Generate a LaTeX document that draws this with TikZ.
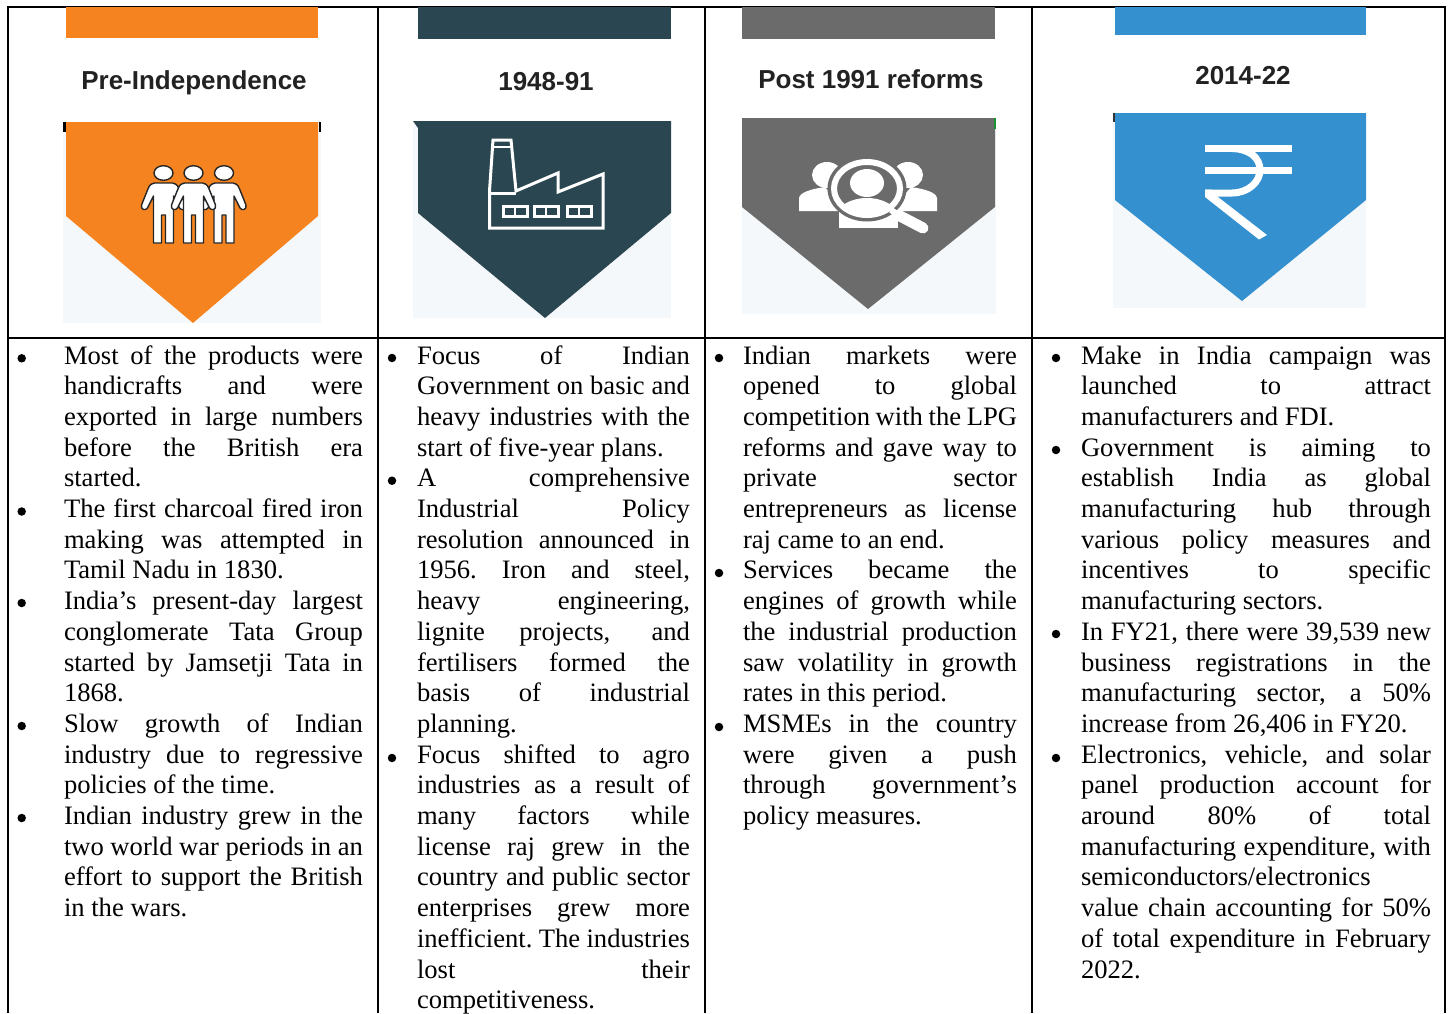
\documentclass[tikz,border=0pt]{standalone}
\usepackage{fontspec}
\setmainfont{Liberation Serif}
\setsansfont{Liberation Sans}
\newcommand\J[1]{\makebox[\hsize][s]{#1}}
\newcommand\R{\spaceskip=.25em plus 4em minus .06em\relax\xspaceskip=\spaceskip\rule{0pt}{20pt}}
\definecolor{orangeb}{HTML}{F58420}
\definecolor{tealb}{HTML}{2A4650}
\definecolor{greyb}{HTML}{6B6B6B}
\definecolor{blueb}{HTML}{3590CF}
\definecolor{palebg}{HTML}{F5F8FA}
\definecolor{titleink}{HTML}{222222}
\tikzset{
 gridline/.style={line width=2.2pt,black},
 coltext/.style={anchor=north west,inner sep=0pt,outer sep=0pt,align=left,font=\fontsize{26.6}{30.7}\selectfont},
 bulletdot/.style={circle,fill=black,inner sep=0pt,minimum size=8.5pt},
 title/.style={anchor=base,font=\sffamily\bfseries\fontsize{26}{30}\selectfont,text=titleink,inner sep=0pt},
 icon/.style={white,line width=3pt},
 fig/.style={fill=white,draw=black!85,line width=1.4pt,line join=round}
}
% color, x0, x1, barbottom, top, side, tipx, tipy
\newcommand\banner[8]{%
 \fill[#1] (#2,7) rectangle (#3,#4);
 \fill[#1] (#2,#5) -- (#3,#5) -- (#3,#6) -- (#7,#8) -- (#2,#6) -- cycle;
}
\newcommand\person[1]{%
 \draw[fig] (#1,173) ellipse [x radius=9.5pt,y radius=7.3pt];
 \draw[fig] (#1-9,183) .. controls (#1-14,184) and (#1-15,187) .. (#1-16,190) -- (#1-22,205)
  .. controls (#1-23,210) and (#1-18,211) .. (#1-16,208) -- (#1-10,196) -- (#1-10,243) -- (#1-2,243) -- (#1-2,215) -- (#1+2,215)
  -- (#1+2,243) -- (#1+10,243) -- (#1+10,196) -- (#1+16,208) .. controls (#1+18,211) and (#1+23,210) .. (#1+22,205)
  -- (#1+16,190) .. controls (#1+15,187) and (#1+14,184) .. (#1+9,183) -- cycle;
}
\begin{document}
\begin{tikzpicture}[x=1pt,y=-1pt]
\useasboundingbox (0,0) rectangle (1448,1013);
\fill[white] (0,0) rectangle (1448,1013);
% grid
\draw[gridline] (8,1013) -- (8,7) -- (1445,7) -- (1445,1013);
\draw[gridline] (378,7) -- (378,1013);
\draw[gridline] (705,7) -- (705,1013);
\draw[gridline] (1032,7) -- (1032,1013);
\draw[gridline] (8,338) -- (1445,338);
% picture grounds
\fill[white] (62,7.6) rectangle (322,122);
\fill[white] (413,7.6) rectangle (672,121);
\fill[white] (741,7.6) rectangle (996,118);
\fill[white] (1113,7.6) rectangle (1367,113);
\fill[palebg] (63,122) rectangle (321,323);
\fill[palebg] (413,121) rectangle (671,318);
\fill[palebg] (742,118) rectangle (996,314);
\fill[palebg] (1113,113) rectangle (1366,308);
% banners
\banner{orangeb}{66}{318}{38}{122}{216}{193}{323}
\banner{tealb}{418}{671}{39}{121}{213}{545}{318}
\banner{greyb}{742}{995}{39}{118}{207}{868}{309}
\banner{blueb}{1115}{1366}{35}{113}{200}{1242}{301}
% corner remnants
\fill[black] (63,122) rectangle (66,132);
\fill[black] (319,122) rectangle (321,132);
\fill[tealb] (413,121) -- (418,121) -- (418,128) -- cycle;
\fill[black!80] (1113,113) rectangle (1115,122);
\fill[tealb!60!green] (994,118) rectangle (996,129);
% titles
\node[title] (t1) at (194,89.5) {Pre-Independence};
\node[title] (t2) at (546,90) {1948-91};
\node[title] (t3) at (871,88.5) {Post 1991 reforms};
\node[title] (t4) at (1243,84.5) {2014-22};
% people icon
\person{163.5}\person{224}\person{193.5}
% factory icon
\draw[icon,line join=miter] (489.5,191) -- (493,140) -- (511,140) -- (516,191) -- (558,173) -- (558,192) -- (603,174) -- (603,228) -- (489.5,228) -- cycle;
\draw[icon] (489,193) -- (516,193);
\draw[icon,line width=2.4pt] (494,147) -- (510,147);
\foreach \wx in {503,534,567}{
 \draw[icon] (\wx,206) rectangle (\wx+24,216.5);
 \draw[icon,line width=2.4pt] (\wx+12,206) -- (\wx+12,216.5);
}
% search icon
\fill[white] (827,175) ellipse [x radius=15pt,y radius=13pt];
\fill[white] (908,175) ellipse [x radius=15pt,y radius=13pt];
\fill[white] (799,211) -- (799,198) .. controls (800,192) and (812,189) .. (825,187) -- (845,211) -- cycle;
\fill[white] (937,211) -- (937,198) .. controls (936,192) and (924,189) .. (911,187) -- (891,211) -- cycle;
\fill[white] (839,205) rectangle (898,228);
\fill[greyb] (867,188.5) ellipse [x radius=39.5pt,y radius=33pt];
\draw[white,line width=6pt] (867,188.5) ellipse [x radius=33pt,y radius=26.5pt];
\fill[white] (867,183) ellipse [x radius=17pt,y radius=14pt];
\begin{scope}
 \clip (867,188.5) ellipse [x radius=31pt,y radius=25pt];
 \fill[white] (867,216) ellipse [x radius=30pt,y radius=18pt];
\end{scope}
\draw[white,line width=6pt] (891,210) -- (900,216);
\draw[white,line width=11pt,line cap=round] (900,216) -- (923,228);
% rupee icon
\fill[white] (1205,145) rectangle (1292,152);
\fill[white] (1205,167) rectangle (1292,174);
\draw[white,line width=7pt] (1232,148.5) .. controls (1250,149) and (1260,158) .. (1260,170)
 .. controls (1260,182) and (1248,193) .. (1232,193) -- (1205,193);
\fill[white] (1205,189.5) -- (1212,189.5) -- (1218,197) -- (1267,235) -- (1259,239.5) -- (1205,197) -- cycle;
% column 1
\foreach \n/\y in {a/358.3,b/511.5,c/603,d/726,e/818}
 \node[bulletdot] (b1\n) at (21.7,\y) {};
\node[coltext,text width=299pt] (c1) at (64,344) {\R\J{Most of the products were}\\
\J{handicrafts and were}\\
\J{exported in large numbers}\\
\J{before the British era}\\
started.\\
\J{The first charcoal fired iron}\\
\J{making was attempted in}\\
Tamil Nadu in 1830.\\
\J{India’s present-day largest}\\
\J{conglomerate Tata Group}\\
\J{started by Jamsetji Tata in}\\
1868.\\
\J{Slow growth of Indian}\\
\J{industry due to regressive}\\
policies of the time.\\
\J{Indian industry grew in the}\\
\J{two world war periods in an}\\
\J{effort to support the British}\\
in the wars.};
% column 2
\foreach \n/\y in {a/358,b/480.7,c/758}
 \node[bulletdot] (b2\n) at (392,\y) {};
\node[coltext,text width=273pt] (c2) at (417,344) {\R\J{Focus of Indian}\\
\J{Government on basic and}\\
\J{heavy industries with the}\\
start of five-year plans.\\
\J{A comprehensive}\\
\J{Industrial Policy}\\
\J{resolution announced in}\\
\J{1956. Iron and steel,}\\
\J{heavy engineering,}\\
\J{lignite projects, and}\\
\J{fertilisers formed the}\\
\J{basis of industrial}\\
planning.\\
\J{Focus shifted to agro}\\
\J{industries as a result of}\\
\J{many factors while}\\
\J{license raj grew in the}\\
\J{country and public sector}\\
\J{enterprises grew more}\\
\J{inefficient. The industries}\\
\J{lost their}\\
competitiveness.};
% column 3
\foreach \n/\y in {a/358,b/573,c/727}
 \node[bulletdot] (b3\n) at (719,\y) {};
\node[coltext,text width=274pt] (c3) at (743,344) {\R\J{Indian markets were}\\
\J{opened to global}\\
\J{competition with the LPG}\\
\J{reforms and gave way to}\\
\J{private sector}\\
\J{entrepreneurs as license}\\
raj came to an end.\\
\J{Services became the}\\
\J{engines of growth while}\\
\J{the industrial production}\\
\J{saw volatility in growth}\\
rates in this period.\\
\J{MSMEs in the country}\\
\J{were given a push}\\
\J{through government’s}\\
policy measures.};
% column 4
\foreach \n/\y in {a/358,b/450,c/634,d/758}
 \node[bulletdot] (b4\n) at (1056,\y) {};
\node[coltext,text width=350pt] (c4) at (1081,344) {\R\J{Make in India campaign was}\\
\J{launched to attract}\\
manufacturers and FDI.\\
\J{Government is aiming to}\\
\J{establish India as global}\\
\J{manufacturing hub through}\\
\J{various policy measures and}\\
\J{incentives to specific}\\
manufacturing sectors.\\
\J{In FY21, there were 39,539 new}\\
\J{business registrations in the}\\
\J{manufacturing sector, a 50\%}\\
increase from 26,406 in FY20.\\
\J{Electronics, vehicle, and solar}\\
\J{panel production account for}\\
\J{around 80\% of total}\\
\J{manufacturing expenditure, with}\\
semiconductors/electronics\\
\J{value chain accounting for 50\%}\\
\J{of total expenditure in February}\\
2022.};
\end{tikzpicture}
\end{document}
